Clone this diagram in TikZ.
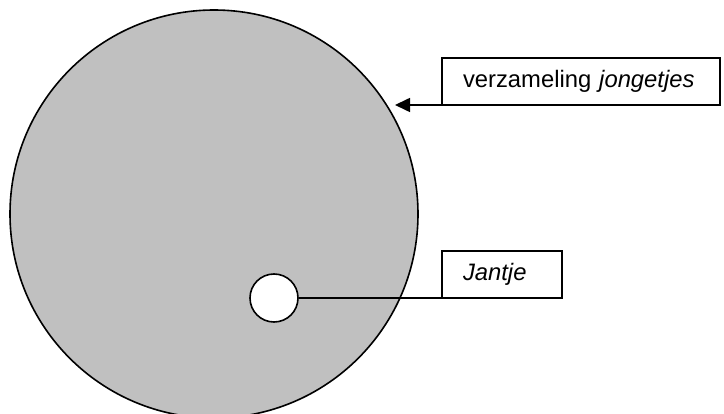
\documentclass[tikz,border=0pt]{standalone}
\usepackage{fontspec}
\setmainfont{Liberation Sans}
\usetikzlibrary{arrows.meta}
\definecolor{setgray}{HTML}{C0C0C0}
\tikzset{
  line/.style={line width=1.6pt, draw=black},
  setcircle/.style={circle, line, fill=setgray, inner sep=0pt, minimum size=408pt},
  elemcircle/.style={circle, line, fill=white, inner sep=0pt, minimum size=48pt},
  labelbox/.style={draw=black, line width=1.6pt, fill=white, anchor=north west, minimum height=47pt,
    outer sep=0pt, inner xsep=21pt, inner ysep=0pt, align=left, font=\fontsize{23.8}{28}\selectfont},
}
\begin{document}
\begin{tikzpicture}[x=1pt,y=-1pt]
\useasboundingbox (0,0) rectangle (724,414);
\node[setcircle] (set) at (214,214) {};
\node[elemcircle] (jan) at (274,298) {};
\node[labelbox, text width=236pt] (vb) at (442,58) {verzameling \textit{jongetjes}};
\node[labelbox, text width=78pt] (jb) at (442,251) {\textit{Jantje}};
\coordinate (tip) at (395,105);
\draw[line, -{Triangle[length=15pt,width=14pt]}] (vb.south west) -- (vb.south west -| tip);
\draw[line] (jan.east) -- (jan.east -| jb.west);
\end{tikzpicture}
\end{document}
